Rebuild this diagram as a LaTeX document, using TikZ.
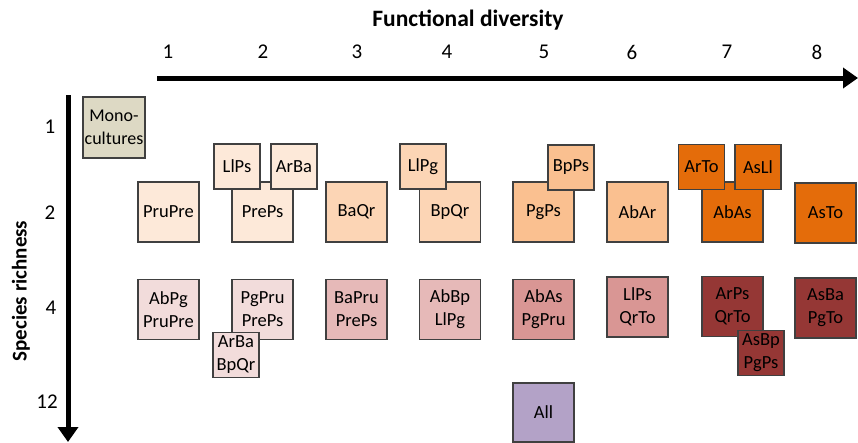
\documentclass[tikz,border=0pt]{standalone}
\usepackage{fontspec}
\setmainfont{Carlito}
\usetikzlibrary{arrows.meta}
\definecolor{cMono}{HTML}{DDD9C4}
\definecolor{cPeachA}{HTML}{FDE9D9}
\definecolor{cPeachB}{HTML}{FCD5B5}
\definecolor{cPeachC}{HTML}{FAC090}
\definecolor{cOrange}{HTML}{E46C0A}
\definecolor{cPinkA}{HTML}{F2DCDB}
\definecolor{cPinkB}{HTML}{E6B9B8}
\definecolor{cPinkC}{HTML}{D99694}
\definecolor{cRed}{HTML}{953735}
\definecolor{cLav}{HTML}{B3A2C7}
\definecolor{cEdge}{HTML}{404040}
\begin{document}
\begin{tikzpicture}[x=1pt,y=-1pt,
  bigbox/.style={draw=cEdge,line width=1.2pt,minimum width=61pt,minimum height=60pt,inner sep=0pt,align=center,font=\fontsize{18.5}{23}\selectfont},
  smallbox/.style={draw=cEdge,line width=1.2pt,minimum width=46pt,minimum height=45pt,inner sep=0pt,align=center,font=\fontsize{18.5}{23}\selectfont},
  axlabel/.style={font=\fontsize{21}{25}\selectfont},
  axtitle/.style={font=\fontsize{23.5}{28}\selectfont\bfseries},
  axarrow/.style={line width=5pt,-{Triangle[length=15pt,width=20pt]}}]
\useasboundingbox (0,0) rectangle (858,442);
% axes
\coordinate (xs) at (157,78);
\coordinate (xe) at (858,78);
\coordinate (ys) at (68,95);
\coordinate (ye) at (68,442);
\draw[axarrow] (xs) -- (xe);
\draw[axarrow] (ys) -- (ye);
\node[axtitle] (xt) at (468,20) {Functional diversity};
\node[axtitle,font=\fontsize{21}{25}\selectfont\bfseries,rotate=90] (yt) at (21,291) {Species richness};
\node[axlabel] (x1) at (168,52) {1};
\node[axlabel] (x2) at (263,52) {2};
\node[axlabel] (x3) at (357,52) {3};
\node[axlabel] (x4) at (447,52) {4};
\node[axlabel] (x5) at (544,52) {5};
\node[axlabel] (x6) at (632,52) {6};
\node[axlabel] (x7) at (727,52) {7};
\node[axlabel] (x8) at (817,52) {8};
\node[axlabel] (y1) at (50,127) {1};
\node[axlabel] (y2) at (50,213) {2};
\node[axlabel] (y4) at (51,308) {4};
\node[axlabel] (y12) at (47,402) {12};
% monocultures
\node[bigbox,fill=cMono,minimum width=62pt,minimum height=61pt,font=\fontsize{18}{23}\selectfont] (mono) at (114,127.5) {Mono-\\cultures};
% row 2
\node[bigbox,fill=cPeachA] (prupre) at (168.5,212) {PruPre};
\node[bigbox,fill=cPeachA] (preps) at (262.5,212) {PrePs};
\node[smallbox,fill=cPeachA] (llps) at (237,166.5) {LlPs};
\node[smallbox,fill=cPeachA] (arba) at (294,166.5) {ArBa};
\node[bigbox,fill=cPeachB] (baqr) at (356.5,212) {BaQr};
\node[bigbox,fill=cPeachB] (bpqr) at (450,212) {BpQr};
\node[smallbox,fill=cPeachB] (llpg) at (423,166.5) {LlPg};
\node[bigbox,fill=cPeachC] (pgps) at (543.5,212) {PgPs};
\node[smallbox,fill=cPeachC] (bpps) at (571,167.5) {BpPs};
\node[bigbox,fill=cPeachC] (abar) at (637.5,212) {AbAr};
\node[bigbox,fill=cOrange] (abas) at (732.5,212) {AbAs};
\node[smallbox,fill=cOrange] (arto) at (701.5,167) {ArTo};
\node[smallbox,fill=cOrange] (asll) at (758,167) {AsLl};
\node[bigbox,fill=cOrange] (asto) at (825.5,213) {AsTo};
% row 4
\node[bigbox,fill=cPinkA] (abpg) at (168.5,309.5) {AbPg\\PruPre};
\node[bigbox,fill=cPinkA] (pgpru) at (262.5,309.5) {PgPru\\PrePs};
\node[smallbox,fill=cPinkA] (arbabpqr) at (236,355) {ArBa\\BpQr};
\node[bigbox,fill=cPinkB] (bapru) at (356.5,309.5) {BaPru\\PrePs};
\node[bigbox,fill=cPinkB] (abbp) at (450,309.5) {AbBp\\LlPg};
\node[bigbox,fill=cPinkC] (abaspg) at (543.5,309.5) {AbAs\\PgPru};
\node[bigbox,fill=cPinkC] (llpsqr) at (637.5,307) {LlPs\\QrTo};
\node[bigbox,fill=cRed] (arps) at (732.5,306.5) {ArPs\\QrTo};
\node[smallbox,fill=cRed] (asbp) at (761,353) {AsBp\\PgPs};
\node[bigbox,fill=cRed] (asba) at (825.5,308) {AsBa\\PgTo};
% row 12
\node[bigbox,fill=cLav,minimum height=59pt] (all) at (543.5,412.5) {All};
\end{tikzpicture}
\end{document}
